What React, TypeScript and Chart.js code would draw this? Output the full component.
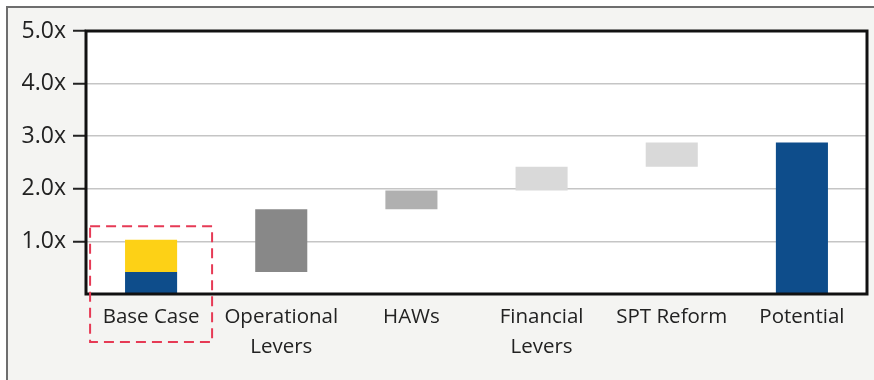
import React, { useEffect, useRef } from "react";
import { Chart, registerables } from "chart.js";

Chart.register(...registerables);

// Category labels (multi-line where wrapped)
const categories: string[][] = [
  ["Base Case"],
  ["Operational", "Levers"],
  ["HAWs"],
  ["Financial", "Levers"],
  ["SPT Reform"],
  ["Potential"],
];

// Solid blue columns: base portion of Base Case and the Potential total
const blueBars: ([number, number] | null)[] = [[0, 0.42], null, null, null, null, [0, 2.88]];
// Yellow upper portion of Base Case
const yellowBars: ([number, number] | null)[] = [[0.42, 1.03], null, null, null, null, null];
// Floating steps between base and potential
const stepBars: ([number, number] | null)[] = [null, [0.42, 1.61], [1.61, 1.97], [1.97, 2.42], [2.42, 2.88], null];
const stepColors = ["#000000", "#888888", "#b0b0b0", "#d9d9d9", "#d9d9d9", "#000000"];

const yTicks = [1, 2, 3, 4, 5];

const FONT = "'Open Sans', 'Noto Sans', sans-serif";

const framePlugin = {
  id: "frame",
  beforeDraw(chart: Chart) {
    const { ctx, width, height, chartArea } = chart;
    ctx.save();
    ctx.fillStyle = "#ffffff";
    ctx.fillRect(0, 0, width, height);
    ctx.fillStyle = "#f4f4f2";
    ctx.fillRect(7, 7, width, height);
    ctx.strokeStyle = "#6e6e6e";
    ctx.lineWidth = 2;
    ctx.beginPath();
    ctx.moveTo(7, height + 2);
    ctx.lineTo(7, 7);
    ctx.lineTo(width + 2, 7);
    ctx.stroke();
    ctx.fillStyle = "#ffffff";
    ctx.fillRect(chartArea.left, chartArea.top, chartArea.right - chartArea.left, chartArea.bottom - chartArea.top);
    ctx.restore();
  },
  afterDraw(chart: Chart) {
    const { ctx, chartArea, scales } = chart;
    ctx.save();
    // plot border
    ctx.strokeStyle = "#111111";
    ctx.lineWidth = 3;
    ctx.strokeRect(chartArea.left, chartArea.top, chartArea.right - chartArea.left, chartArea.bottom - chartArea.top);
    // dashed highlight around the first category
    const cx = scales.x.getPixelForValue(0);
    const top = scales.y.getPixelForValue(1.29);
    ctx.strokeStyle = "#e63a55";
    ctx.lineWidth = 2;
    ctx.setLineDash([10, 6]);
    ctx.strokeRect(cx - 61, top, 122, chartArea.bottom + 48 - top);
    ctx.restore();
  },
};

export default function App() {
  const ref = useRef<HTMLCanvasElement | null>(null);

  useEffect(() => {
    document.body.style.margin = "0";
    if (!ref.current) return;
    const chart = new Chart(ref.current, {
      type: "bar",
      data: {
        labels: categories,
        datasets: [
          { data: blueBars as any, backgroundColor: "#0e4d8b", grouped: false, barPercentage: 0.4, categoryPercentage: 1 },
          { data: yellowBars as any, backgroundColor: "#fdd116", grouped: false, barPercentage: 0.4, categoryPercentage: 1 },
          { data: stepBars as any, backgroundColor: stepColors, grouped: false, barPercentage: 0.4, categoryPercentage: 1 },
        ],
      },
      options: {
        animation: false,
        responsive: false,
        events: [],
        layout: { padding: { left: 0, top: 31, right: 7, bottom: 0 } },
        plugins: { legend: { display: false }, tooltip: { enabled: false } },
        scales: {
          x: {
            grid: { display: false, drawTicks: false },
            border: { display: false },
            ticks: {
              color: "#222222",
              font: { family: FONT, size: 20.5, lineHeight: 1.46 },
              padding: 8,
              maxRotation: 0,
              autoSkip: false,
            },
            afterFit(scale: any) {
              scale.height = 86;
            },
          },
          y: {
            min: 0,
            max: 5,
            z: 1,
            afterBuildTicks(scale: any) {
              scale.ticks = yTicks.map((v) => ({ value: v }));
            },
            grid: {
              color: "rgba(150,150,150,0.55)",
              lineWidth: 1.5,
              tickColor: "#222222",
              tickLength: 13,
              tickWidth: 2,
            },
            border: { display: false },
            ticks: {
              color: "#222222",
              font: { family: FONT, size: 23 },
              padding: 7,
              callback: (v: any) => Number(v).toFixed(1) + "x",
            },
            afterFit(scale: any) {
              scale.width = 86;
            },
          },
        },
      },
      plugins: [framePlugin],
    });
    return () => chart.destroy();
  }, []);

  return (
    <div style={{ width: 874, height: 380 }}>
      <canvas ref={ref} width={874} height={380} style={{ display: "block" }} />
    </div>
  );
}
